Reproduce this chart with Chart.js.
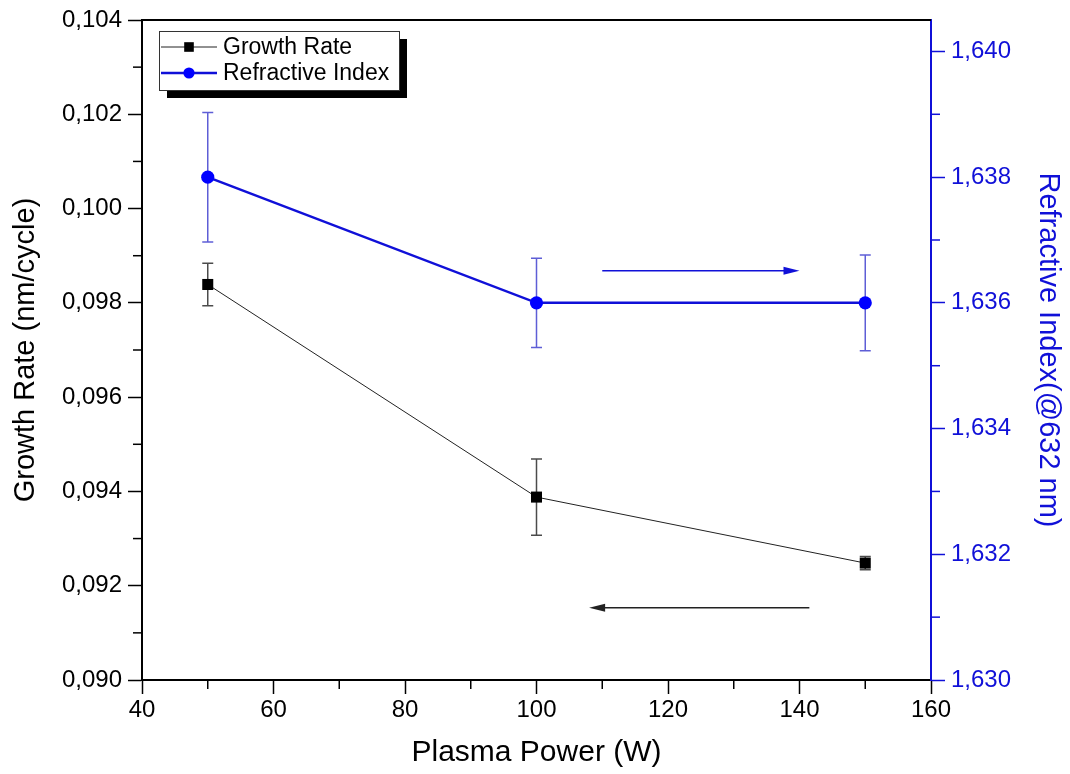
<!DOCTYPE html>
<html>
<head>
<meta charset="utf-8">
<script src="https://cdn.jsdelivr.net/npm/chart.js@4.4.0/dist/chart.umd.min.js"></script>
<style>
  html, body { margin: 0; padding: 0; background: #fff; }
  #box { width: 1070px; height: 774px; }
</style>
</head>
<body>
<div id="box"><canvas id="grafico"></canvas></div>
<script>
// potencia do plasma (W)
const potencia = [50, 100, 150];
// taxa de crescimento (nm/ciclo) e desvio
const taxaCrescimento = [0.09839, 0.09388, 0.09248];
const erroTaxa = [0.00045, 0.00081, 0.00014];
// indice de refracao (@632 nm) e desvio
const indiceRefracao = [1.6380, 1.6360, 1.6360];
const erroIndice = [0.00103, 0.00071, 0.00076];

const ticksX = [40, 60, 80, 100, 120, 140, 160];
const ticksTaxa = [0.090, 0.092, 0.094, 0.096, 0.098, 0.100, 0.102, 0.104];
const ticksIndice = [1.630, 1.632, 1.634, 1.636, 1.638, 1.640];

// setas apontando para o eixo de cada curva
const setaIndice = { de: 110, ate: 140, valor: 1.63651 };
const setaTaxa = { de: 141.5, ate: 108, valor: 0.09153 };

const AZUL = '#1010d8';
const FONTE = '"Liberation Sans", Arial, sans-serif';

function virgula(v, casas) {
  return v.toFixed(casas).replace('.', ',');
}

// barras de erro (desenhadas antes dos marcadores)
const barrasErro = {
  id: 'barrasErro',
  beforeDatasetsDraw(chart) {
    const ctx = chart.ctx;
    chart.data.datasets.forEach((ds, i) => {
      const meta = chart.getDatasetMeta(i);
      const esc = chart.scales[ds.yAxisID];
      ctx.save();
      ctx.strokeStyle = ds.corErro;
      ctx.lineWidth = 1.5;
      meta.data.forEach((pt, j) => {
        const v = ds.data[j].y, e = ds.erro[j];
        const y1 = esc.getPixelForValue(v + e);
        const y2 = esc.getPixelForValue(v - e);
        ctx.beginPath();
        ctx.moveTo(pt.x, y1); ctx.lineTo(pt.x, y2);
        ctx.moveTo(pt.x - 5.5, y1); ctx.lineTo(pt.x + 5.5, y1);
        ctx.moveTo(pt.x - 5.5, y2); ctx.lineTo(pt.x + 5.5, y2);
        ctx.stroke();
      });
      ctx.restore();
    });
  }
};

// moldura superior, ticks menores, setas e legenda com sombra
const extras = {
  id: 'extras',
  afterDraw(chart) {
    const { ctx, chartArea: a, scales } = chart;
    ctx.save();

    // linha do topo
    ctx.strokeStyle = '#000';
    ctx.lineWidth = 2;
    ctx.beginPath();
    ctx.moveTo(a.left, a.top); ctx.lineTo(a.right, a.top);
    ctx.stroke();

    // ticks menores no meio de cada intervalo
    const menores = (esc, valores, cor, lado) => {
      ctx.strokeStyle = cor;
      ctx.lineWidth = 1.5;
      for (let k = 0; k < valores.length - 1; k++) {
        const p = esc.getPixelForValue((valores[k] + valores[k + 1]) / 2);
        ctx.beginPath();
        if (lado === 'baixo') { ctx.moveTo(p, a.bottom); ctx.lineTo(p, a.bottom + 9); }
        if (lado === 'esq') { ctx.moveTo(a.left, p); ctx.lineTo(a.left - 9, p); }
        if (lado === 'dir') { ctx.moveTo(a.right, p); ctx.lineTo(a.right + 9, p); }
        ctx.stroke();
      }
    };
    menores(scales.x, ticksX, '#000', 'baixo');
    menores(scales.yTaxa, ticksTaxa, '#000', 'esq');
    menores(scales.yIndice, ticksIndice, AZUL, 'dir');

    // setas
    const seta = (s, esc, cor) => {
      const x1 = scales.x.getPixelForValue(s.de);
      const x2 = scales.x.getPixelForValue(s.ate);
      const y = esc.getPixelForValue(s.valor);
      const dir = Math.sign(x2 - x1);
      ctx.strokeStyle = cor;
      ctx.fillStyle = cor;
      ctx.lineWidth = 1.5;
      ctx.beginPath();
      ctx.moveTo(x1, y); ctx.lineTo(x2 - dir * 10, y);
      ctx.stroke();
      ctx.beginPath();
      ctx.moveTo(x2, y);
      ctx.lineTo(x2 - dir * 16, y - 4);
      ctx.lineTo(x2 - dir * 16, y + 4);
      ctx.closePath();
      ctx.fill();
    };
    seta(setaIndice, scales.yIndice, AZUL);
    seta(setaTaxa, scales.yTaxa, '#222');

    // legenda
    const x0 = a.left + 17, y0 = a.top + 11, w = 240, h = 59;
    ctx.fillStyle = '#000';
    ctx.fillRect(x0 + 8, y0 + 8, w, h);
    ctx.fillStyle = '#fff';
    ctx.fillRect(x0, y0, w, h);
    ctx.strokeStyle = '#333';
    ctx.lineWidth = 1;
    ctx.strokeRect(x0 + 0.5, y0 + 0.5, w, h);
    ctx.font = '23px ' + FONTE;
    ctx.textBaseline = 'middle';
    chart.data.datasets.forEach((ds, i) => {
      const cy = y0 + 16 + i * 26;
      ctx.strokeStyle = ds.borderColor;
      ctx.lineWidth = ds.borderWidth;
      ctx.beginPath();
      ctx.moveTo(x0 + 2, cy); ctx.lineTo(x0 + 58, cy);
      ctx.stroke();
      ctx.fillStyle = ds.pointBackgroundColor;
      ctx.strokeStyle = ds.pointBackgroundColor;
      Chart.helpers.drawPoint(ctx, {
        pointStyle: ds.pointStyle, radius: ds.pointRadius - 1, rotation: 0, borderWidth: 0
      }, x0 + 30, cy);
      ctx.fillStyle = '#000';
      ctx.fillText(ds.label, x0 + 64, cy + 1);
    });
    ctx.restore();
  }
};

const fixar = (largura, altura) => (esc) => {
  if (largura !== null) esc.width = largura;
  if (altura !== null) esc.height = altura;
  esc.paddingTop = 0; esc.paddingBottom = 0;
  esc.paddingLeft = 0; esc.paddingRight = 0;
};

new Chart(document.getElementById('grafico'), {
  type: 'line',
  data: {
    datasets: [
      {
        label: 'Growth Rate',
        data: potencia.map((p, i) => ({ x: p, y: taxaCrescimento[i] })),
        erro: erroTaxa,
        corErro: 'rgba(30,30,30,0.8)',
        yAxisID: 'yTaxa',
        borderColor: '#222',
        borderWidth: 1,
        pointStyle: 'rect',
        pointRadius: 7.8,
        pointBackgroundColor: '#000',
        pointBorderWidth: 0,
        tension: 0
      },
      {
        label: 'Refractive Index',
        data: potencia.map((p, i) => ({ x: p, y: indiceRefracao[i] })),
        erro: erroIndice,
        corErro: 'rgba(40,40,200,0.75)',
        yAxisID: 'yIndice',
        borderColor: AZUL,
        borderWidth: 2.5,
        pointStyle: 'circle',
        pointRadius: 6.6,
        pointBackgroundColor: '#0000ff',
        pointBorderWidth: 0,
        tension: 0
      }
    ]
  },
  options: {
    responsive: true,
    maintainAspectRatio: false,
    animation: false,
    layout: { padding: { top: 20 } },
    plugins: { legend: { display: false }, tooltip: { enabled: false } },
    scales: {
      x: {
        type: 'linear',
        min: 40, max: 160,
        afterBuildTicks: (esc) => { esc.ticks = ticksX.map(v => ({ value: v })); },
        afterFit: fixar(null, 94),
        border: { display: true, color: '#000', width: 2 },
        grid: { drawOnChartArea: false, drawTicks: true, tickLength: 14, color: '#000', tickWidth: 1.5 },
        ticks: { color: '#000', padding: 2, maxRotation: 0, font: { family: FONTE, size: 24 } },
        title: { display: true, text: 'Plasma Power (W)', color: '#000',
                 padding: { top: 0, bottom: 3 }, font: { family: FONTE, size: 30 } }
      },
      yTaxa: {
        type: 'linear', position: 'left',
        min: 0.090, max: 0.104,
        afterBuildTicks: (esc) => { esc.ticks = ticksTaxa.map(v => ({ value: v })); },
        afterFit: fixar(142, null),
        border: { display: true, color: '#000', width: 2 },
        grid: { drawOnChartArea: false, drawTicks: true, tickLength: 14, color: '#000', tickWidth: 1.5 },
        ticks: { color: '#000', padding: 6, font: { family: FONTE, size: 24 },
                 callback: (v) => virgula(v, 3) },
        title: { display: true, text: 'Growth Rate (nm/cycle)', color: '#000',
                 padding: { top: 9, bottom: 0 }, font: { family: FONTE, size: 29 } }
      },
      yIndice: {
        type: 'linear', position: 'right',
        min: 1.630, max: 1.64050,
        afterBuildTicks: (esc) => { esc.ticks = ticksIndice.map(v => ({ value: v })); },
        afterFit: fixar(139, null),
        border: { display: true, color: AZUL, width: 2 },
        grid: { drawOnChartArea: false, drawTicks: true, tickLength: 14, color: AZUL, tickWidth: 1.5 },
        ticks: { color: AZUL, padding: 6, font: { family: FONTE, size: 24 },
                 callback: (v) => virgula(v, 3) },
        title: { display: true, text: 'Refractive Index(@632 nm)', color: AZUL,
                 padding: { top: 5, bottom: 0 }, font: { family: FONTE, size: 29 } }
      }
    }
  },
  plugins: [barrasErro, extras]
});
</script>
</body>
</html>
